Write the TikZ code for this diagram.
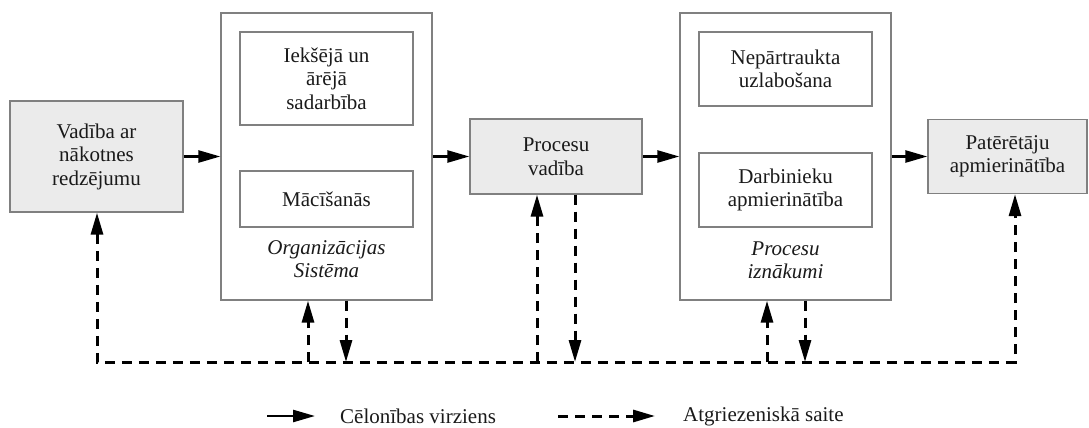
\documentclass[tikz,border=0pt]{standalone}
\usepackage{fontspec}
\setmainfont{Liberation Serif}
\usetikzlibrary{arrows.meta}
\definecolor{boxline}{HTML}{808080}
\definecolor{boxfill}{HTML}{EBEBEB}
\definecolor{ink}{HTML}{1A1A1A}
\begin{document}
\begin{tikzpicture}[x=1pt,y=-1pt,
  every node/.style={font=\fontsize{21}{23.5}\selectfont, text=ink, align=center, inner sep=0pt},
  plainbox/.style={draw=boxline, line width=1.3pt, rectangle},
  keybox/.style={plainbox, fill=boxfill},
  itlabel/.style={font=\fontsize{21}{23.5}\selectfont\itshape},
  headtip/.style={-{Triangle[length=22pt,width=12pt]}},
  cause/.style={line width=2.5pt, headtip},
  fb/.style={line width=3pt, dash pattern=on 10pt off 7pt},
]
\useasboundingbox (0,0) rectangle (1089,428);

% main chain of key boxes
\node[keybox, minimum width=173pt, minimum height=111pt] (b1) at (96.5,156.5) {Vadība ar\\nākotnes\\redzējumu};
\node[plainbox, minimum width=211pt, minimum height=287pt] (b2) at (326.5,156.5) {};
\node[keybox, minimum width=172pt, minimum height=75pt] (b3) at (556,156.5) {Procesu\\vadība};
\node[plainbox, minimum width=211pt, minimum height=287pt] (b4) at (785.5,156.5) {};
\node[keybox, minimum width=159pt, minimum height=74pt] (b5) at (1007.5,156.5) {Patērētāju\\apmierinātība};

% contents of the two large boxes
\node[plainbox, minimum width=173pt, minimum height=93pt] (b2a) at (326.5,78.5) {Iekšējā un\\ārējā\\sadarbība};
\node[plainbox, minimum width=173pt, minimum height=56pt] (b2b) at (326.5,199) {Mācīšanās};
\node[itlabel] (l2) at (326.5,259) {Organizācijas\\Sistēma};
\node[plainbox, minimum width=173pt, minimum height=74pt] (b4a) at (785.5,69) {Nepārtraukta\\uzlabošana};
\node[plainbox, minimum width=173pt, minimum height=74pt] (b4b) at (785.5,190) {Darbinieku\\apmierinātība};
\node[itlabel] (l4) at (785.5,260) {Procesu\\iznākumi};

% causal direction
\draw[cause] (b1.east) -- (b2.west);
\draw[cause] (b2.east) -- (b3.west);
\draw[cause] (b3.east) -- (b4.west);
\draw[cause] (b4.east) -- (b5.west);

% feedback loop
\coordinate (L1) at (97,362);
\coordinate (L5) at (1015,362);
\coordinate (U2) at (308,362);
\coordinate (D2) at (346,362);
\coordinate (U3) at (537,362);
\coordinate (D3) at (575,362);
\coordinate (U4) at (767,362);
\coordinate (D4) at (805,362);
\draw[fb, {Triangle[length=22pt,width=12pt]}-{Triangle[length=22pt,width=12pt]}]
  (L1 |- b1.south) -- (L1) -- (L5) -- (L5 |- b5.south);
\draw[fb, headtip] (U2) -- (U2 |- b2.south);
\draw[fb, headtip] (D2 |- b2.south) -- (D2);
\draw[fb, headtip] (U3) -- (U3 |- b3.south);
\draw[fb, headtip] (D3 |- b3.south) -- (D3);
\draw[fb, headtip] (U4) -- (U4 |- b4.south);
\draw[fb, headtip] (D4 |- b4.south) -- (D4);

% legend
\coordinate (s1) at (267,416);
\coordinate (s2) at (315,416);
\draw[cause] (s1) -- (s2);
\node[anchor=west] (t1) at (340,416) {Cēlonības virziens};
\coordinate (f1) at (558,416);
\coordinate (f2) at (655,416);
\draw[fb, headtip] (f1) -- (f2);
\node[anchor=west] (t2) at (683,416) {Atgriezeniskā saite};
\end{tikzpicture}
\end{document}
